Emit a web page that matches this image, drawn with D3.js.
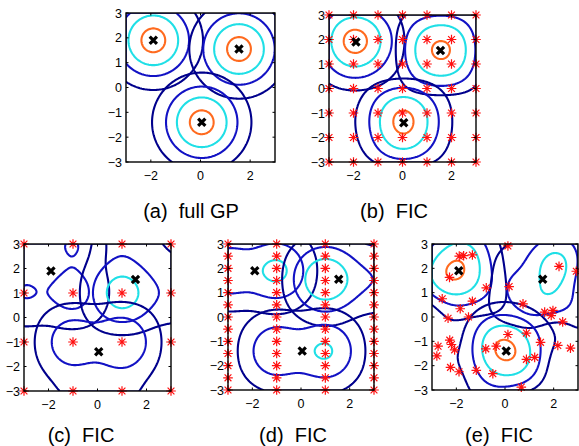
<!DOCTYPE html>
<html>
<head>
<meta charset="utf-8">
<script src="https://cdn.jsdelivr.net/npm/d3@7"></script>
<style>
  body { margin: 0; background: #fff; }
  svg { display: block; font-family: "Liberation Sans", Arial, Helvetica, sans-serif; }
</style>
</head>
<body>
<svg id="chart" width="579" height="446"></svg>
<script>
/* test points (black crosses) whose covariance is contoured */
var centers = [[-1.9, 1.9], [1.55, 1.55], [0.05, -1.4]];
var levels = [0.0285, 0.159, 0.411, 0.815];
var levelColors = ["#00008c", "#1212c4", "#1fdfe6", "#ff6a1e"];
var lengthScale = 0.75;

/* inducing inputs of the FIC panels */
var gridB = [-3, -2, -1, 0, 1, 2, 3];
var colsC = [-3, -1, 1, 3];
var rowsC = [-3, -1, 1, 3];
var colsD = [-3, -1, 1, 3];
var rowsD = [-3, -2.5, -2, -1.5, -1, -0.5, 0, 0.5, 1, 1.5, 2, 2.5, 3];
var pointsE = [
  [0.12, 2.92], [-1.88, 2.5], [-1.7, 2.52], [-1.34, 2.55], [-2.28, 1.63],
  [-0.77, 1.2], [0.17, 1.25], [-2.58, 0.75], [-1.84, 0.34], [-1.34, 0.65],
  [-2.34, -0.05], [-1.5, 0.0], [0.74, 0.54], [2.22, 2.08], [2.93, 1.88],
  [1.63, 0.2], [1.97, 0.27], [1.9, 0.06], [2.37, -0.2], [0.12, -0.72],
  [0.88, -0.66], [1.46, -1.04], [2.17, -1.17], [2.69, -1.28], [-0.36, -1.2],
  [-0.79, -1.31], [-2.75, -1.2], [-2.8, -1.6], [-2.27, -0.95], [-2.2, -1.13],
  [-2.07, -1.35], [-2.24, -2.07], [-1.89, -2.25], [-1.18, -2.19], [-0.5, -2.33],
  [0.88, -1.74], [1.22, -1.66], [0.67, -2.88]
];

var xTicks = [-2, 0, 2];
var yTicks = [-3, -2, -1, 0, 1, 2, 3];
var captions = [["(a)", "full GP"], ["(b)", "FIC"], ["(c)", "FIC"], ["(d)", "FIC"], ["(e)", "FIC"]];

function cross(xs, ys) {
  var out = [];
  xs.forEach(function(x) { ys.forEach(function(y) { out.push([x, y]); }); });
  return out;
}

var inducing = [null, cross(gridB, gridB), cross(colsC, rowsC), cross(colsD, rowsD), pointsE];

/* panel boxes in pixels: left, top, size, caption centre and baseline */
var layout = [
  {x: 126, y: 13, s: 149, lx: 191, ly: 218},
  {x: 329, y: 15, s: 147, lx: 394, ly: 218},
  {x: 24, y: 244, s: 147, lx: 81, ly: 442},
  {x: 228, y: 244, s: 146, lx: 293, ly: 442},
  {x: 432, y: 244, s: 146, lx: 499, ly: 442}
];

function kern(a, b) {
  var dx = a[0] - b[0], dy = a[1] - b[1];
  return Math.exp(-(dx * dx + dy * dy) / (2 * lengthScale * lengthScale));
}

// cholesky solve of K w = b
function cholSolve(K, b) {
  var n = K.length, L = [], i, j, k, s;
  for (i = 0; i < n; i++) L.push(new Float64Array(n));
  for (i = 0; i < n; i++) {
    for (j = 0; j <= i; j++) {
      s = K[i][j];
      for (k = 0; k < j; k++) s -= L[i][k] * L[j][k];
      if (i === j) L[i][i] = Math.sqrt(s);
      else L[i][j] = s / L[j][j];
    }
  }
  var z = new Float64Array(n), w = new Float64Array(n);
  for (i = 0; i < n; i++) {
    s = b[i];
    for (k = 0; k < i; k++) s -= L[i][k] * z[k];
    z[i] = s / L[i][i];
  }
  for (i = n - 1; i >= 0; i--) {
    s = z[i];
    for (k = i + 1; k < n; k++) s -= L[k][i] * w[k];
    w[i] = s / L[i][i];
  }
  return w;
}

var N = 151, step = 6 / (N - 1);

// covariance k(x, c) (full GP) or its FIC/Nystrom version through the inducing inputs U
function covField(U, c) {
  var vals = new Float64Array(N * N), i, j, m;
  if (!U) {
    for (j = 0; j < N; j++) for (i = 0; i < N; i++)
      vals[i + j * N] = kern([-3 + i * step, 3 - j * step], c);
    return vals;
  }
  var K = U.map(function(u, a) {
    return U.map(function(v, b) { return kern(u, v) + (a === b ? 1e-8 : 0); });
  });
  var w = cholSolve(K, U.map(function(u) { return kern(u, c); }));
  for (j = 0; j < N; j++) for (i = 0; i < N; i++) {
    var p = [-3 + i * step, 3 - j * step], s = 0;
    for (m = 0; m < U.length; m++) s += w[m] * kern(p, U[m]);
    vals[i + j * N] = s;
  }
  return vals;
}

var svg = d3.select("#chart");

layout.forEach(function(box, pi) {
  var sx = d3.scaleLinear().domain([-3, 3]).range([box.x, box.x + box.s]);
  var sy = d3.scaleLinear().domain([-3, 3]).range([box.y + box.s, box.y]);
  var g = svg.append("g");

  g.append("clipPath").attr("id", "clip" + pi)
    .append("rect").attr("x", box.x).attr("y", box.y).attr("width", box.s).attr("height", box.s);

  var path = d3.geoPath(d3.geoTransform({
    point: function(x, y) {
      this.stream.point(sx(-3 + (x - 0.5) * step), sy(3 - (y - 0.5) * step));
    }
  }));

  var cg = g.append("g").attr("clip-path", "url(#clip" + pi + ")");
  centers.forEach(function(c) {
    var vals = covField(inducing[pi], c);
    var conts = d3.contours().size([N, N]).thresholds(levels)(vals);
    cg.selectAll(null).data(conts).enter().append("path")
      .attr("d", path)
      .attr("fill", "none")
      .attr("stroke", function(d, i) { return levelColors[i]; })
      .attr("stroke-width", 2.1)
      .attr("stroke-linejoin", "round");
  });

  // red asterisks for inducing inputs
  if (inducing[pi]) {
    var star = g.selectAll(null).data(inducing[pi]).enter().append("g")
      .attr("transform", function(d) { return "translate(" + sx(d[0]) + "," + sy(d[1]) + ")"; })
      .attr("stroke", "#ff1010").attr("stroke-width", 1.2);
    star.append("path").attr("d", "M-4.8,0H4.8M0,-4.8V4.8M-3.4,-3.4L3.4,3.4M-3.4,3.4L3.4,-3.4");
  }

  // black crosses
  g.selectAll(null).data(centers).enter().append("path")
    .attr("transform", function(d) { return "translate(" + sx(d[0]) + "," + sy(d[1]) + ")"; })
    .attr("d", "M-3.6,-3.6L3.6,3.6M-3.6,3.6L3.6,-3.6")
    .attr("stroke", "#000").attr("stroke-width", 3.2);

  // frame and inward ticks
  g.append("rect").attr("x", box.x).attr("y", box.y).attr("width", box.s).attr("height", box.s)
    .attr("fill", "none").attr("stroke", "#000").attr("stroke-width", 1.4);

  var tk = 2.5;
  xTicks.forEach(function(t) {
    g.append("line").attr("x1", sx(t)).attr("x2", sx(t)).attr("y1", box.y + box.s).attr("y2", box.y + box.s - tk).attr("stroke", "#000");
    g.append("line").attr("x1", sx(t)).attr("x2", sx(t)).attr("y1", box.y).attr("y2", box.y + tk).attr("stroke", "#000");
    g.append("text").attr("x", sx(t)).attr("y", box.y + box.s + 17.5)
      .attr("text-anchor", "middle").attr("font-size", 12.5)
      .text(String(t).replace("-", "\u2212"));
  });
  yTicks.forEach(function(t) {
    g.append("line").attr("x1", box.x).attr("x2", box.x + tk).attr("y1", sy(t)).attr("y2", sy(t)).attr("stroke", "#000");
    g.append("line").attr("x1", box.x + box.s).attr("x2", box.x + box.s - tk).attr("y1", sy(t)).attr("y2", sy(t)).attr("stroke", "#000");
    g.append("text").attr("x", box.x - 4).attr("y", sy(t) + 4.5)
      .attr("text-anchor", "end").attr("font-size", 12.5)
      .text(String(t).replace("-", "\u2212"));
  });

  // caption
  svg.append("text").attr("x", box.lx).attr("y", box.ly)
    .attr("text-anchor", "middle").attr("font-size", 20)
    .text(captions[pi][0] + "\u00a0\u00a0" + captions[pi][1]);
});
</script>
</body>
</html>
